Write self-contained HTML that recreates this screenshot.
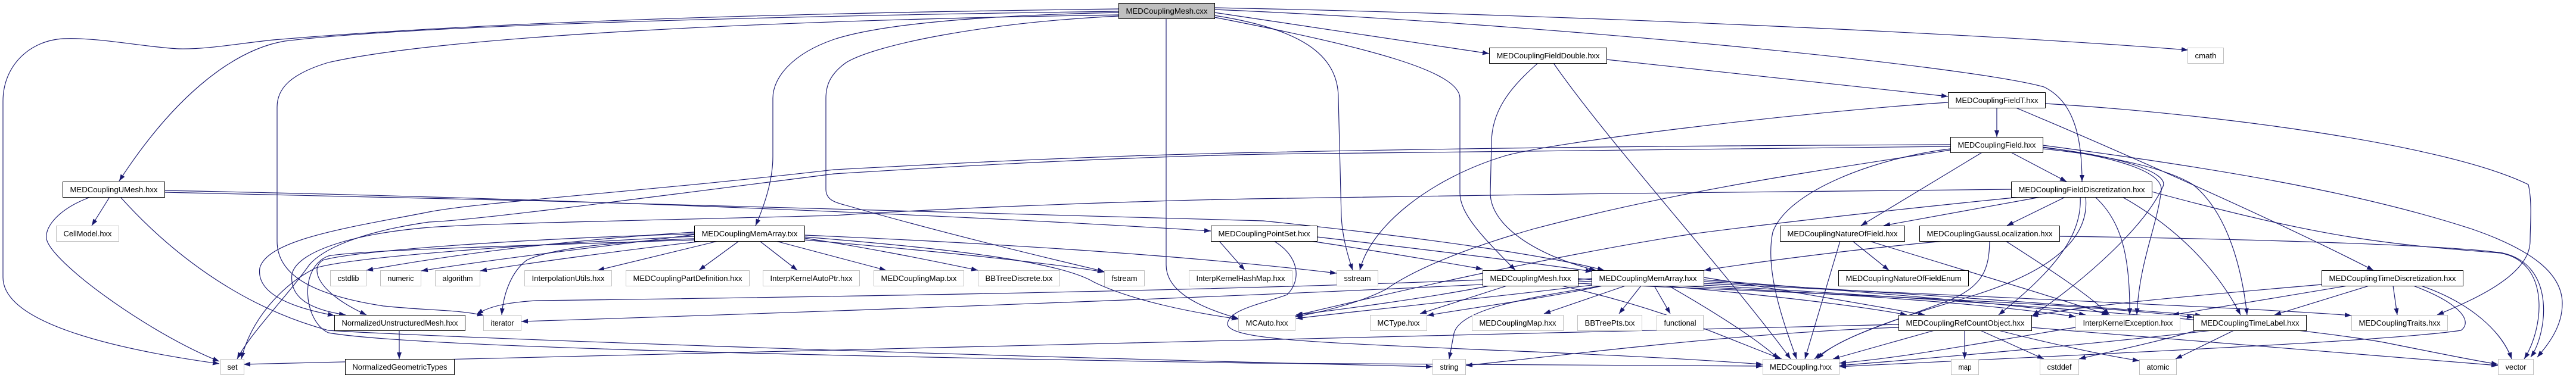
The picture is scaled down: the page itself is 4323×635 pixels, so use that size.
<!DOCTYPE html>
<html><head><meta charset="utf-8"><style>
html,body{margin:0;padding:0;background:#fff;}
body{width:4323px;height:635px;overflow:hidden;}
svg{display:block;}
text{font-family:"Liberation Sans",Arial,sans-serif;font-size:13px;fill:#000;}
.e{fill:none;stroke:#191970;stroke-width:1.15;}
.b{fill:#fff;stroke:#000;stroke-width:1;}
.g{fill:#fff;stroke:#bfbfbf;stroke-width:1;}
.t{fill:#bfbfbf;stroke:#000;stroke-width:1;}
</style></head><body>
<svg width="4323" height="635" viewBox="0 0 4323 635" xmlns="http://www.w3.org/2000/svg">
<defs><marker id="a" markerWidth="11" markerHeight="8" refX="11" refY="4" orient="auto" markerUnits="userSpaceOnUse"><path d="M0,0 L11,4 L0,8 z" fill="#191970"/></marker></defs>
<g class="e" marker-end="url(#a)">
<path d="M1877,15 C1300,22 800,38 459,67 C400,73 349,83 300,82 C250,80 160,62 106,65 C50,68 5,110 5,170 L5,466 C5,540 180,585 368,611"/>
<path d="M1877,19 C1300,27 700,42 478,69 C400,82 300,150 200,304"/>
<path d="M1877,25 C1300,34 750,60 551,105 C485,125 465,150 465,180 L465,405 C465,460 520,495 643,514 C720,522 770,520 812,530"/>
<path d="M1877,21 C1650,26 1480,40 1400,66 C1330,90 1297,130 1297,165 L1297,263 C1297,300 1285,340 1268,379"/>
<path d="M1877,27 C1650,38 1470,75 1420,105 C1392,125 1386,145 1386,165 L1386,318 C1386,335 1400,340 1420,345 C1560,385 1700,420 1853,456"/>
<path d="M1957,31 L1957,445 C1957,480 1990,510 2078,535"/>
<path d="M2038,13 C2600,24 3300,55 3672,84"/>
<path d="M2038,16 C2600,40 3300,110 3430,146 C3480,170 3494,230 3494,305"/>
<path d="M2038,21 L2499,90"/>
<path d="M2038,26 C2180,48 2246,90 2246,165 L2251,364 C2253,400 2262,430 2270,454"/>
<path d="M2038,29 C2300,80 2450,120 2450,165 L2450,324 C2450,360 2490,400 2543,454"/>
<path d="M2696,100 C2900,122 3100,142 3269,162"/>
<path d="M2581,106 C2530,150 2503,190 2503,240 L2501,324 C2501,380 2580,430 2678,454"/>
<path d="M2607,106 C2700,240 2900,460 3005,603"/>
<path d="M3351,181 L3351,230"/>
<path d="M3383,181 C3500,230 3800,360 3983,454"/>
<path d="M3432,174 C3700,190 4100,240 4243,310 C4250,340 4246,380 4246,405 C4246,460 4160,500 4090,529"/>
<path d="M3269,172 C3000,190 2600,240 2525,262 C2400,300 2300,380 2282,454"/>
<path d="M3373,255 L3468,305"/>
<path d="M3328,255 L3123,379"/>
<path d="M3273,250 C3150,265 3000,320 2975,390 C2960,460 3000,560 3015,603"/>
<path d="M3273,243 C3000,244 2600,246 2120,256 C1800,262 1500,280 1400,285 C1100,320 800,340 720,356 C600,380 450,400 436,450 C430,490 480,515 561,530"/>
<path d="M3273,246 C3000,248 2600,252 2120,259 C1800,266 1500,286 1400,292 C1100,330 800,370 720,373 C600,390 540,420 519,445 C480,500 420,560 398,603"/>
<path d="M3273,252 C3100,280 2840,314 2572,385 C2450,420 2370,455 2326,486 C2280,510 2210,526 2174,532"/>
<path d="M3428,247 C3560,265 3630,290 3627,320 C3620,380 3590,440 3586,529"/>
<path d="M3428,250 C3550,262 3640,285 3680,310 C3730,350 3760,430 3771,529"/>
<path d="M3428,244 C3700,280 3950,320 4149,385 C4250,420 4300,460 4300,510 C4300,550 4275,580 4258,600"/>
<path d="M3428,248 C3560,262 3640,290 3630,313 C3600,380 3500,470 3411,530"/>
<path d="M184,331 L154,379"/>
<path d="M152,331 C100,350 75,380 78,401 C85,440 250,560 368,607"/>
<path d="M202,331 C300,440 420,520 551,555 C700,565 1500,595 2404,616"/>
<path d="M276,320 C800,330 1500,355 2032,388"/>
<path d="M276,323 C900,335 1700,360 2120,371 C2400,400 2600,430 2692,454"/>
<path d="M1165,390 C1000,400 800,420 615,454"/>
<path d="M1165,394 C1050,410 850,432 707,455"/>
<path d="M1180,405 C1050,420 900,440 806,455"/>
<path d="M1165,401 C1050,405 930,415 884,437 C860,455 845,490 842,529"/>
<path d="M1205,405 L1003,454"/>
<path d="M1240,405 L1173,454"/>
<path d="M1275,405 L1338,454"/>
<path d="M1302,405 L1487,454"/>
<path d="M1350,400 C1450,415 1550,435 1641,454"/>
<path d="M1350,403 C1550,420 1750,440 1853,457"/>
<path d="M1350,398 C1600,418 1780,440 1836,474 C1900,505 2000,525 2078,536"/>
<path d="M1165,397 C900,410 600,430 530,450 C470,480 420,540 405,603"/>
<path d="M1165,393 C900,400 600,420 542,437 C520,450 530,490 615,529"/>
<path d="M1165,403 C900,412 600,420 551,430 C500,450 510,540 551,559 C700,585 1500,600 2100,610 C2500,612 2800,614 2958,615"/>
<path d="M1350,395 C1700,410 2000,430 2243,459"/>
<path d="M2046,405 L2089,454"/>
<path d="M2200,405 C2300,420 2420,440 2488,452"/>
<path d="M2210,398 C2400,420 2560,440 2672,456"/>
<path d="M2138,405 C2180,430 2185,470 2160,495 C2120,510 2060,520 2060,545 C2065,570 2200,575 2500,588 C2800,600 2900,608 2958,612"/>
<path d="M2500,480 C2400,500 2250,520 2175,529"/>
<path d="M2529,480 L2383,527"/>
<path d="M2620,480 C2800,520 2900,570 2990,603"/>
<path d="M2648,468 C2900,488 3100,510 3200,529"/>
<path d="M2648,472 C3000,488 3300,505 3483,532"/>
<path d="M2648,476 C3100,495 3500,510 3681,533"/>
<path d="M2488,470 C2000,490 1300,500 900,505 C850,508 820,515 800,528"/>
<path d="M2680,478 C2500,500 2300,520 2175,535"/>
<path d="M2690,480 C2600,500 2450,520 2395,530"/>
<path d="M2728,480 L2591,527"/>
<path d="M2754,480 L2717,527"/>
<path d="M2776,480 L2803,527"/>
<path d="M2690,480 C2560,500 2450,520 2440,560 L2432,603"/>
<path d="M2800,480 C2870,520 2950,570 2985,603"/>
<path d="M2859,466 C3000,488 3150,515 3230,529"/>
<path d="M2859,470 C3100,488 3400,512 3500,529"/>
<path d="M2859,473 C3200,492 3550,518 3695,530"/>
<path d="M2859,476 C3300,498 3800,518 3946,530"/>
<path d="M2859,479 C3300,505 3800,540 4000,575 C4100,595 4150,605 4192,612"/>
<path d="M2671,468 C2300,490 1500,520 875,540"/>
<path d="M3109,405 L3170,454"/>
<path d="M3088,405 L3029,603"/>
<path d="M3137,405 C3250,440 3450,500 3538,529"/>
<path d="M3262,405 C3100,420 2950,440 2860,454"/>
<path d="M3366,405 C3420,440 3500,490 3540,529"/>
<path d="M3339,405 C3338,450 3330,480 3270,505 C3150,550 3080,570 3050,603"/>
<path d="M3456,397 C3700,400 4100,410 4200,425 C4290,445 4275,560 4247,600"/>
<path d="M3430,330 L3161,379"/>
<path d="M3468,330 L3368,379"/>
<path d="M3491,330 C3495,400 3440,460 3354,529"/>
<path d="M3515,330 C3560,370 3575,430 3574,529"/>
<path d="M3500,330 C3510,420 3400,470 3300,500 C3200,530 3100,560 3045,603"/>
<path d="M3400,330 C3100,360 2900,385 2840,393 C2600,430 2300,500 2174,530"/>
<path d="M3375,318 C3000,320 2500,328 2100,334 C1800,340 1500,355 1400,362 C1000,372 800,376 720,382 C600,392 500,420 490,460 C485,500 520,520 580,529"/>
<path d="M3560,330 C3650,380 3720,450 3760,529"/>
<path d="M3611,322 C3900,400 4000,410 4196,425 C4280,440 4270,550 4236,603"/>
<path d="M3297,554 L3297,603"/>
<path d="M3321,554 L3430,603"/>
<path d="M3250,554 L3076,603"/>
<path d="M3350,554 C3450,580 3550,600 3590,606"/>
<path d="M3409,550 C3700,575 4000,600 4192,614"/>
<path d="M3186,545 C2500,560 1500,590 409,612"/>
<path d="M3186,550 C2900,560 2600,600 2460,614"/>
<path d="M3483,550 C3300,580 3200,600 3087,610"/>
<path d="M3751,554 L3651,603"/>
<path d="M3720,554 C3500,580 3200,605 3087,614"/>
<path d="M3690,554 C3600,580 3520,595 3489,603"/>
<path d="M3976,480 L3817,529"/>
<path d="M3940,480 L3646,529"/>
<path d="M4016,480 L4023,529"/>
<path d="M4063,480 C4150,510 4200,560 4215,603"/>
<path d="M4050,480 C4130,510 4150,540 4130,555 C4000,575 3400,600 3087,616"/>
<path d="M3896,478 C3700,495 3500,512 3409,531"/>
<path d="M670,554 L670,603"/>
</g>
<g>
<rect class="t" x="1877.5" y="5.5" width="161" height="26"/><text x="1958" y="23" text-anchor="middle" textLength="137" lengthAdjust="spacingAndGlyphs">MEDCouplingMesh.cxx</text>

<rect class="b" x="2499.5" y="80.5" width="197" height="26"/><text x="2598" y="98" text-anchor="middle" textLength="173" lengthAdjust="spacingAndGlyphs">MEDCouplingFieldDouble.hxx</text>
<rect class="g" x="3671.5" y="80.5" width="60" height="26"/><text x="3701.5" y="98" text-anchor="middle" textLength="36" lengthAdjust="spacingAndGlyphs">cmath</text>

<rect class="b" x="3269.5" y="155.5" width="163" height="26"/><text x="3351" y="173" text-anchor="middle" textLength="139" lengthAdjust="spacingAndGlyphs">MEDCouplingFieldT.hxx</text>

<rect class="b" x="3273.5" y="230.5" width="155" height="26"/><text x="3351" y="248" text-anchor="middle" textLength="131" lengthAdjust="spacingAndGlyphs">MEDCouplingField.hxx</text>

<rect class="b" x="105.5" y="305.5" width="171" height="26"/><text x="191" y="323" text-anchor="middle" textLength="147" lengthAdjust="spacingAndGlyphs">MEDCouplingUMesh.hxx</text>
<rect class="b" x="3375.5" y="305.5" width="236" height="26"/><text x="3493.5" y="323" text-anchor="middle" textLength="212" lengthAdjust="spacingAndGlyphs">MEDCouplingFieldDiscretization.hxx</text>

<rect class="g" x="94.5" y="379.5" width="105" height="26"/><text x="147" y="397" text-anchor="middle" textLength="81" lengthAdjust="spacingAndGlyphs">CellModel.hxx</text>
<rect class="b" x="1165.5" y="379.5" width="185" height="26"/><text x="1258" y="397" text-anchor="middle" textLength="161" lengthAdjust="spacingAndGlyphs">MEDCouplingMemArray.txx</text>
<rect class="b" x="2032.5" y="379.5" width="178" height="26"/><text x="2121.5" y="397" text-anchor="middle" textLength="154" lengthAdjust="spacingAndGlyphs">MEDCouplingPointSet.hxx</text>
<rect class="b" x="2987.5" y="379.5" width="209" height="26"/><text x="3092" y="397" text-anchor="middle" textLength="185" lengthAdjust="spacingAndGlyphs">MEDCouplingNatureOfField.hxx</text>
<rect class="b" x="3221.5" y="379.5" width="235" height="26"/><text x="3339" y="397" text-anchor="middle" textLength="211" lengthAdjust="spacingAndGlyphs">MEDCouplingGaussLocalization.hxx</text>

<rect class="g" x="554.5" y="454.5" width="60" height="26"/><text x="584.5" y="472" text-anchor="middle" textLength="36" lengthAdjust="spacingAndGlyphs">cstdlib</text>
<rect class="g" x="638.5" y="454.5" width="68" height="26"/><text x="672.5" y="472" text-anchor="middle" textLength="44" lengthAdjust="spacingAndGlyphs">numeric</text>
<rect class="g" x="730.5" y="454.5" width="75" height="26"/><text x="768" y="472" text-anchor="middle" textLength="51" lengthAdjust="spacingAndGlyphs">algorithm</text>
<rect class="g" x="880.5" y="454.5" width="146" height="26"/><text x="953.5" y="472" text-anchor="middle" textLength="122" lengthAdjust="spacingAndGlyphs">InterpolationUtils.hxx</text>
<rect class="g" x="1050.5" y="454.5" width="207" height="26"/><text x="1154" y="472" text-anchor="middle" textLength="183" lengthAdjust="spacingAndGlyphs">MEDCouplingPartDefinition.hxx</text>
<rect class="g" x="1280.5" y="454.5" width="162" height="26"/><text x="1361.5" y="472" text-anchor="middle" textLength="138" lengthAdjust="spacingAndGlyphs">InterpKernelAutoPtr.hxx</text>
<rect class="g" x="1466.5" y="454.5" width="151" height="26"/><text x="1542" y="472" text-anchor="middle" textLength="127" lengthAdjust="spacingAndGlyphs">MEDCouplingMap.txx</text>
<rect class="g" x="1641.5" y="454.5" width="137" height="26"/><text x="1710" y="472" text-anchor="middle" textLength="113" lengthAdjust="spacingAndGlyphs">BBTreeDiscrete.txx</text>
<rect class="g" x="1853.5" y="454.5" width="67" height="26"/><text x="1887" y="472" text-anchor="middle" textLength="43" lengthAdjust="spacingAndGlyphs">fstream</text>
<rect class="g" x="1995.5" y="454.5" width="173" height="26"/><text x="2082" y="472" text-anchor="middle" textLength="149" lengthAdjust="spacingAndGlyphs">InterpKernelHashMap.hxx</text>
<rect class="g" x="2243.5" y="454.5" width="69" height="26"/><text x="2278" y="472" text-anchor="middle" textLength="45" lengthAdjust="spacingAndGlyphs">sstream</text>
<rect class="b" x="2488.5" y="454.5" width="160" height="26"/><text x="2568.5" y="472" text-anchor="middle" textLength="136" lengthAdjust="spacingAndGlyphs">MEDCouplingMesh.hxx</text>
<rect class="b" x="2671.5" y="454.5" width="188" height="26"/><text x="2765.5" y="472" text-anchor="middle" textLength="164" lengthAdjust="spacingAndGlyphs">MEDCouplingMemArray.hxx</text>
<rect class="b" x="3085.5" y="454.5" width="218" height="26"/><text x="3194.5" y="472" text-anchor="middle" textLength="194" lengthAdjust="spacingAndGlyphs">MEDCouplingNatureOfFieldEnum</text>
<rect class="b" x="3896.5" y="454.5" width="237" height="26"/><text x="4015" y="472" text-anchor="middle" textLength="213" lengthAdjust="spacingAndGlyphs">MEDCouplingTimeDiscretization.hxx</text>

<rect class="b" x="561.5" y="529.5" width="219" height="26"/><text x="671" y="547" text-anchor="middle" textLength="195" lengthAdjust="spacingAndGlyphs">NormalizedUnstructuredMesh.hxx</text>
<rect class="g" x="811.5" y="529.5" width="63" height="26"/><text x="843" y="547" text-anchor="middle" textLength="39" lengthAdjust="spacingAndGlyphs">iterator</text>
<rect class="g" x="2078.5" y="529.5" width="95" height="26"/><text x="2126" y="547" text-anchor="middle" textLength="71" lengthAdjust="spacingAndGlyphs">MCAuto.hxx</text>
<rect class="g" x="2299.5" y="529.5" width="95" height="26"/><text x="2347" y="547" text-anchor="middle" textLength="71" lengthAdjust="spacingAndGlyphs">MCType.hxx</text>
<rect class="g" x="2470.5" y="529.5" width="153" height="26"/><text x="2547" y="547" text-anchor="middle" textLength="129" lengthAdjust="spacingAndGlyphs">MEDCouplingMap.hxx</text>
<rect class="g" x="2647.5" y="529.5" width="108" height="26"/><text x="2701.5" y="547" text-anchor="middle" textLength="84" lengthAdjust="spacingAndGlyphs">BBTreePts.txx</text>
<rect class="g" x="2780.5" y="529.5" width="78" height="26"/><text x="2819.5" y="547" text-anchor="middle" textLength="54" lengthAdjust="spacingAndGlyphs">functional</text>
<rect class="b" x="3186.5" y="529.5" width="223" height="26"/><text x="3298" y="547" text-anchor="middle" textLength="199" lengthAdjust="spacingAndGlyphs">MEDCouplingRefCountObject.hxx</text>
<rect class="g" x="3483.5" y="529.5" width="175" height="26"/><text x="3571" y="547" text-anchor="middle" textLength="151" lengthAdjust="spacingAndGlyphs">InterpKernelException.hxx</text>
<rect class="b" x="3681.5" y="529.5" width="189" height="26"/><text x="3776" y="547" text-anchor="middle" textLength="165" lengthAdjust="spacingAndGlyphs">MEDCouplingTimeLabel.hxx</text>
<rect class="g" x="3946.5" y="529.5" width="161" height="26"/><text x="4027" y="547" text-anchor="middle" textLength="137" lengthAdjust="spacingAndGlyphs">MEDCouplingTraits.hxx</text>

<rect class="g" x="370.5" y="603.5" width="39" height="26"/><text x="390" y="621" text-anchor="middle" textLength="17" lengthAdjust="spacingAndGlyphs">set</text>
<rect class="b" x="579.5" y="603.5" width="183" height="26"/><text x="671" y="621" text-anchor="middle" textLength="159" lengthAdjust="spacingAndGlyphs">NormalizedGeometricTypes</text>
<rect class="g" x="2404.5" y="603.5" width="55" height="26"/><text x="2432" y="621" text-anchor="middle" textLength="31" lengthAdjust="spacingAndGlyphs">string</text>
<rect class="g" x="2958.5" y="603.5" width="128" height="26"/><text x="3022" y="621" text-anchor="middle" textLength="104" lengthAdjust="spacingAndGlyphs">MEDCoupling.hxx</text>
<rect class="g" x="3274.5" y="603.5" width="46" height="26"/><text x="3297.5" y="621" text-anchor="middle" textLength="22" lengthAdjust="spacingAndGlyphs">map</text>
<rect class="g" x="3423.5" y="603.5" width="65" height="26"/><text x="3456" y="621" text-anchor="middle" textLength="41" lengthAdjust="spacingAndGlyphs">cstddef</text>
<rect class="g" x="3590.5" y="603.5" width="62" height="26"/><text x="3621.5" y="621" text-anchor="middle" textLength="38" lengthAdjust="spacingAndGlyphs">atomic</text>
<rect class="g" x="4192.5" y="603.5" width="59" height="26"/><text x="4222" y="621" text-anchor="middle" textLength="35" lengthAdjust="spacingAndGlyphs">vector</text>
</g>
</svg>
</body></html>
